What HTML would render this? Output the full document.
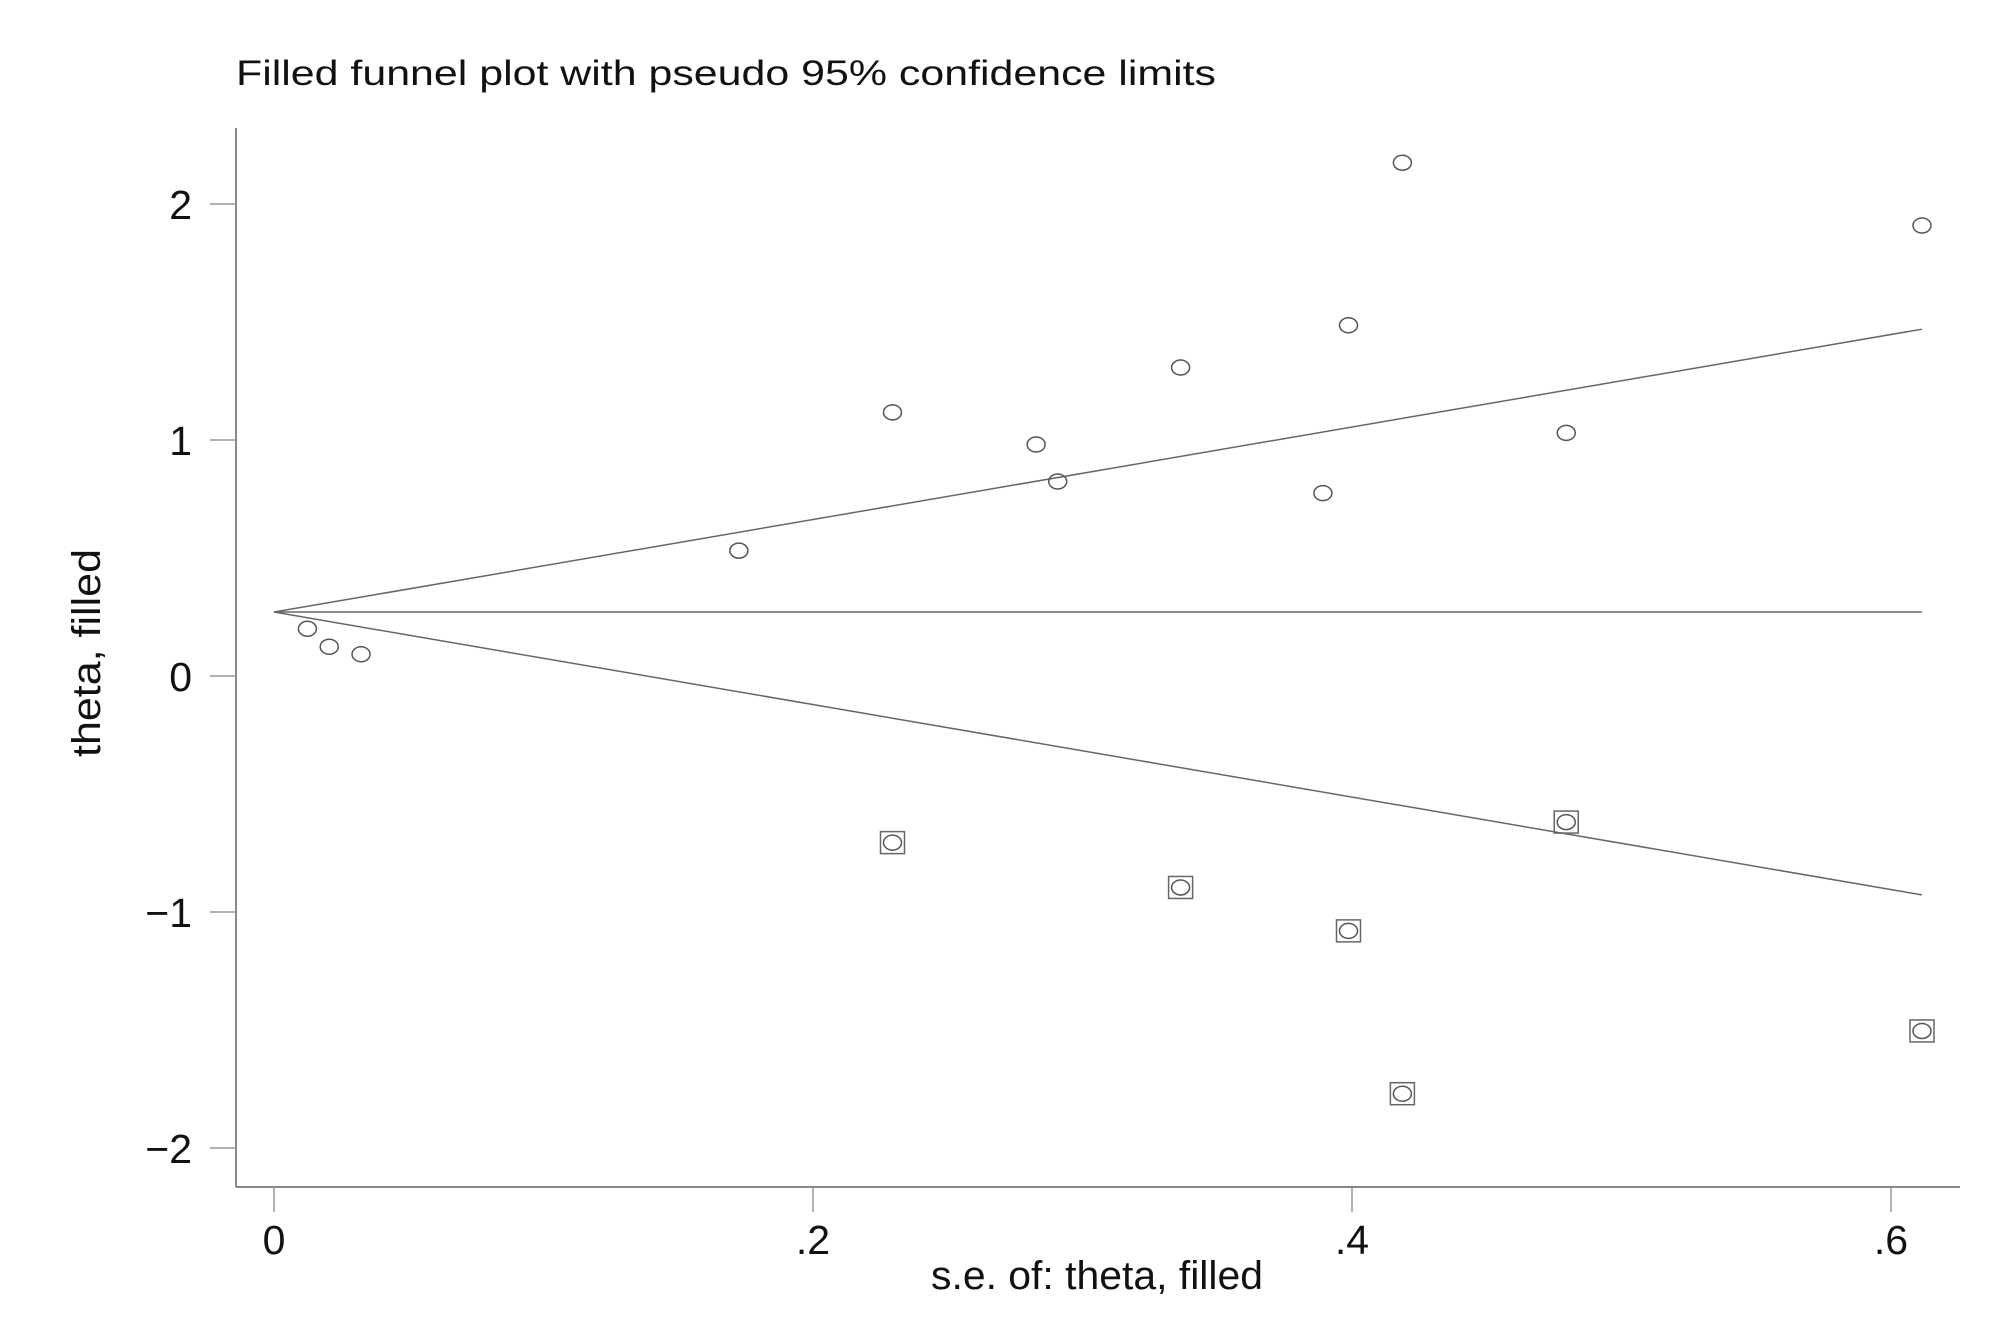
<!DOCTYPE html>
<html><head><meta charset="utf-8"><style>
html,body{margin:0;padding:0;background:#fff;}
svg{display:block;font-family:"Liberation Sans",sans-serif;}
</style></head><body>
<svg id="chart" width="2008" height="1338" viewBox="0 0 2008 1338" xmlns="http://www.w3.org/2000/svg">
<rect width="2008" height="1338" fill="#fff"/>
<text x="236" y="85" font-size="35" fill="#111" textLength="980" lengthAdjust="spacingAndGlyphs">Filled funnel plot with pseudo 95% confidence limits</text>
<g id="axes"></g>
<g id="lines"></g>
<g id="points"></g>
<text x="1097" y="1289" font-size="40" text-anchor="middle" fill="#111" textLength="332" lengthAdjust="spacingAndGlyphs">s.e. of: theta, filled</text>
<text transform="translate(100,653) rotate(-90)" font-size="40" text-anchor="middle" fill="#111" textLength="208" lengthAdjust="spacingAndGlyphs">theta, filled</text>
</svg>
<script>
const xTicks = [0, 0.2, 0.4, 0.6];
const xTickLabels = ["0", ".2", ".4", ".6"];
const yTicks = [2, 1, 0, -1, -2];
const yTickLabels = ["2", "1", "0", "\u22121", "\u22122"];
const pooled = 0.271;
const maxSE = 0.6115;
const obsSE = [0.0124,0.0205,0.0323,0.1725,0.2295,0.2828,0.2908,0.3364,0.3892,0.3987,0.4187,0.4795,0.6115];
const obsTheta = [0.200,0.124,0.092,0.531,1.117,0.981,0.824,1.307,0.775,1.486,2.175,1.030,1.909];
const fillSE = [0.2295,0.3364,0.3987,0.4187,0.4795,0.6115];
const fillTheta = [-0.706,-0.896,-1.080,-1.770,-0.619,-1.504];

const NS = "http://www.w3.org/2000/svg";
const X = v => 274 + v * 2695;
const Y = v => 676 - v * 236;
function mk(parent, tag, attrs){const e=document.createElementNS(NS,tag);for(const k in attrs)e.setAttribute(k,attrs[k]);parent.appendChild(e);return e;}
const axes=document.getElementById('axes');
let yl=mk(axes,'line',{x1:236,y1:128,x2:236,y2:1187,stroke:'#888','stroke-width':2});


let xl=mk(axes,'line',{x1:236,y1:1187,x2:1960,y2:1187,stroke:'#888','stroke-width':2});


yTicks.forEach((t,i)=>{
  const tk=mk(axes,'line',{x1:210,y1:Y(t),x2:236,y2:Y(t),stroke:'#999','stroke-width':1.5});
  
  
  const tx=mk(axes,'text',{x:192,y:Y(t)+15,'font-size':41,'text-anchor':'end',fill:'#111'});
  tx.textContent=yTickLabels[i];
  
  
});
xTicks.forEach((t,i)=>{
  const tk=mk(axes,'line',{x1:X(t),y1:1187,x2:X(t),y2:1212,stroke:'#999','stroke-width':1.5});
  
  
  const tx=mk(axes,'text',{x:X(t),y:1254,'font-size':41,'text-anchor':'middle',fill:'#111'});
  tx.textContent=xTickLabels[i];
  
  
});
const lines=document.getElementById('lines');
const lo=mk(lines,'line',{x1:X(0),y1:Y(pooled),x2:X(maxSE),y2:Y(pooled-1.96*maxSE),stroke:'#666','stroke-width':1.5});


const up=mk(lines,'line',{x1:X(0),y1:Y(pooled),x2:X(maxSE),y2:Y(pooled+1.96*maxSE),stroke:'#666','stroke-width':1.5});


const pl=mk(lines,'line',{x1:X(0),y1:Y(pooled),x2:X(maxSE),y2:Y(pooled),stroke:'#666','stroke-width':1.5});


const pts=document.getElementById('points');
obsSE.forEach((s,i)=>{
  const c=mk(pts,'ellipse',{cx:X(s),cy:Y(obsTheta[i]),rx:9,ry:7.5,fill:'none',stroke:'#555','stroke-width':1.5});
  
  
});
fillSE.forEach((s,i)=>{
  const r=mk(pts,'rect',{x:X(s)-12,y:Y(fillTheta[i])-11,width:24,height:22,fill:'none',stroke:'#666','stroke-width':1.5});
  
  
  const c=mk(pts,'ellipse',{cx:X(s),cy:Y(fillTheta[i]),rx:9,ry:7.5,fill:'none',stroke:'#555','stroke-width':1.5});
  
  
});
</script>
</body></html>
